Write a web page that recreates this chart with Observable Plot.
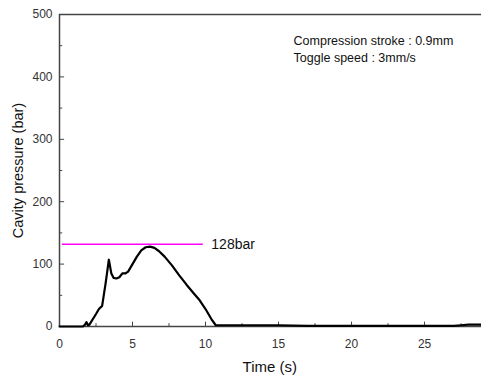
<!DOCTYPE html>
<html><head><meta charset="utf-8">
<script src="https://cdn.jsdelivr.net/npm/d3@7"></script>
<script src="https://cdn.jsdelivr.net/npm/@observablehq/plot@0.6"></script>
<style>body{margin:0;background:#fff;font-family:Arial,"Liberation Sans",sans-serif}</style>
</head><body><div id="chart"></div>
<script>
const time = [0, 1.0, 1.6, 1.75, 1.85, 1.95, 2.05, 2.5, 2.7, 2.92, 3.03, 3.15, 3.28, 3.38, 3.45, 3.55, 3.7, 3.9, 4.1, 4.3, 4.5, 4.7, 5.0, 5.3, 5.6, 5.9, 6.2, 6.5, 6.8, 7.2, 7.7, 8.2, 8.7, 9.2, 9.6, 10.0, 10.4, 10.7, 11.0, 13, 15, 17, 20, 23, 25, 27, 27.5, 28, 28.9];
const pressure = [0, 0, 0, 3, 7, 2, 3, 20, 28, 33, 50, 68, 90, 107, 98, 85, 78, 77, 79, 85, 85, 88, 100, 112, 122, 127, 128, 126, 121, 112, 98, 82, 67, 53, 42, 28, 12, 2, 2, 2, 2, 1, 1, 1, 1, 1, 2, 3, 3];
const xTicks = [0, 5, 10, 15, 20, 25];
const xMinor = [2.5, 7.5, 12.5, 17.5, 22.5, 27.5];
const yTicks = [0, 100, 200, 300, 400, 500];
const yMinor = [50, 150, 250, 350, 450];
const peakLine = {x1: 0.2, x2: 9.85, y: 132, label: "128bar"};
const notes = ["Compression stroke : 0.9mm", "Toggle speed : 3mm/s"];
const xTitle = "Time (s)";
const yTitle = "Cavity pressure (bar)";

const data = time.map((t, i) => ({t, p: pressure[i]}));
const axisColor = "#444";

const chart = Plot.plot({
  width: 481, height: 376,
  marginTop: 14, marginBottom: 50, marginLeft: 59, marginRight: 0,
  style: {fontFamily: "Arial, 'Liberation Sans', sans-serif", fontSize: "12px", background: "#fff"},
  x: {domain: [0, 28.9], label: null},
  y: {domain: [0, 500], label: null},
  marks: [
    Plot.axisX(xTicks, {tickSize: 0, tickPadding: 13, fill: "#333", fontSize: 12}),
    Plot.axisY(yTicks, {tickSize: 0, tickPadding: 7, fill: "#333", fontSize: 12}),
    Plot.ruleX(xTicks, {y1: 0, y2: 7, stroke: axisColor}),
    Plot.ruleX(xMinor, {y1: 0, y2: 4.5, stroke: axisColor}),
    Plot.ruleY(yTicks, {x1: 0, x2: 0.35, stroke: axisColor}),
    Plot.ruleY(yMinor, {x1: 0, x2: 0.22, stroke: axisColor}),
    Plot.ruleY([500], {stroke: axisColor, strokeWidth: 1.5}),
    Plot.ruleX([0], {stroke: axisColor, strokeWidth: 1.5}),
    Plot.ruleY([0], {stroke: axisColor, strokeWidth: 1.5}),
    Plot.ruleY([peakLine], {x1: "x1", x2: "x2", y: "y", stroke: "#ff00ff", strokeWidth: 1.5}),
    Plot.text([peakLine], {x: "x2", y: "y", text: "label", textAnchor: "start", dx: 8, fontSize: 14, fill: "#111"}),
    Plot.line(data, {x: "t", y: "p", stroke: "#000", strokeWidth: 2.2}),
    Plot.text(notes, {x: 16.03, y: (d, i) => 458 - i * 27, text: d => d, textAnchor: "start", fontSize: 12.5, fill: "#111"}),
    Plot.text([xTitle], {x: 14.4, y: -66, text: d => d, fontSize: 15, fill: "#111"}),
    Plot.text([yTitle], {x: -2.8, y: 250, text: d => d, rotate: -90, fontSize: 14.5, fill: "#111"})
  ]
});
document.getElementById("chart").appendChild(chart);
</script></body></html>
